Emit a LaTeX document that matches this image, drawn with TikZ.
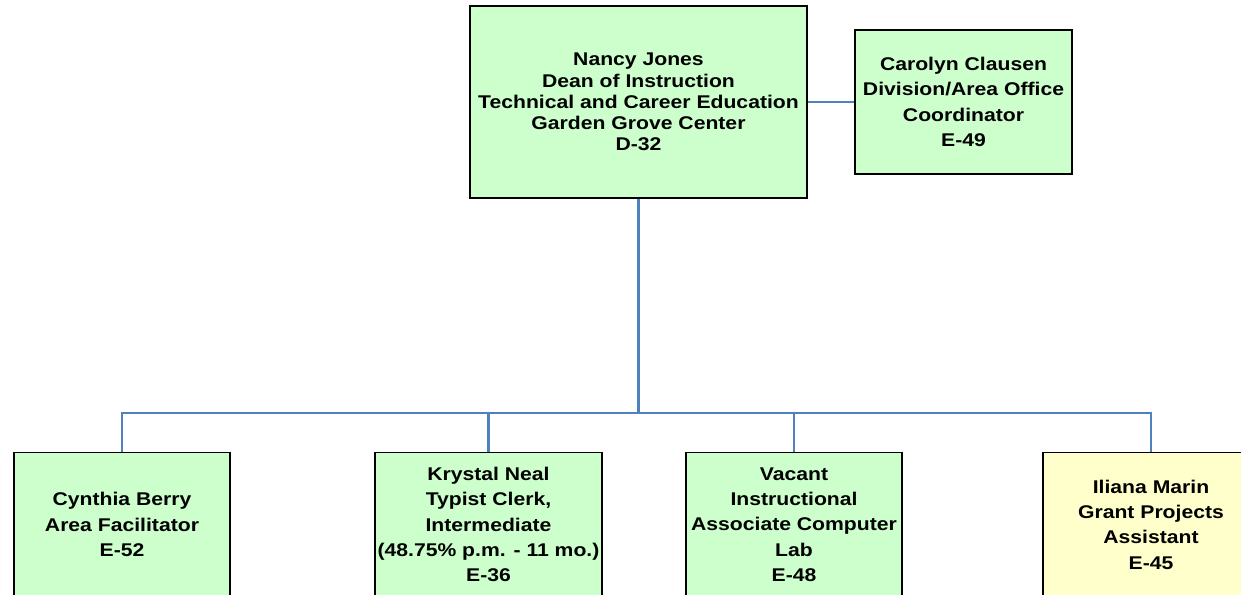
\documentclass[tikz,border=0pt]{standalone}
\usepackage{fontspec}
\setmainfont[FakeStretch=1.15]{Liberation Sans}
\definecolor{boxgreen}{HTML}{CCFFCC}
\definecolor{boxyellow}{HTML}{FFFFCC}
\definecolor{linkblue}{HTML}{4F81BD}
\begin{document}
\begin{tikzpicture}[x=0.75pt,y=-0.75pt,
  staff/.style={draw=black,line width=1.3pt,fill=boxgreen,align=center,inner sep=1pt,
    minimum width=162pt,minimum height=108pt,font=\fontsize{13.8}{19}\selectfont\bfseries},
  link/.style={draw=linkblue,line width=1.6pt}]
\clip (0,0) rectangle (1241,595);
% top row
\node[staff,minimum width=252.75pt,minimum height=144pt,font=\fontsize{13.8}{15.9}\selectfont\bfseries] (dean) at (638.5,102)
  {Nancy Jones\\Dean of Instruction\\Technical and Career Education\\Garden Grove Center\\D-32};
\node[staff,minimum width=162.75pt] (carolyn) at (963.5,102)
  {Carolyn Clausen\\Division/Area Office\\Coordinator\\E-49};
% bottom row
\node[staff] (cynthia) at (122,524.5) {Cynthia Berry\\Area Facilitator\\E-52};
\node[staff,minimum width=170.25pt] (krystal) at (488.5,524.5)
  {Krystal Neal\\Typist Clerk,\\Intermediate\\(48.75\% p.m. - 11 mo.)\\E-36};
\node[staff] (vacant) at (794,524.5) {Vacant\\Instructional\\Associate Computer\\Lab\\E-48};
\node[staff,fill=boxyellow] (iliana) at (1151,524.5) {Iliana Marin\\Grant Projects\\Assistant\\E-45};
% connectors
\coordinate (bus) at (dean.south |- 0,413);
\draw[link] (dean.south) -- (bus);
\foreach \n in {cynthia,krystal,vacant,iliana} \draw[link] (bus) -| (\n.north);
\draw[link] (dean.east) -- (carolyn.west);
\end{tikzpicture}
\end{document}
